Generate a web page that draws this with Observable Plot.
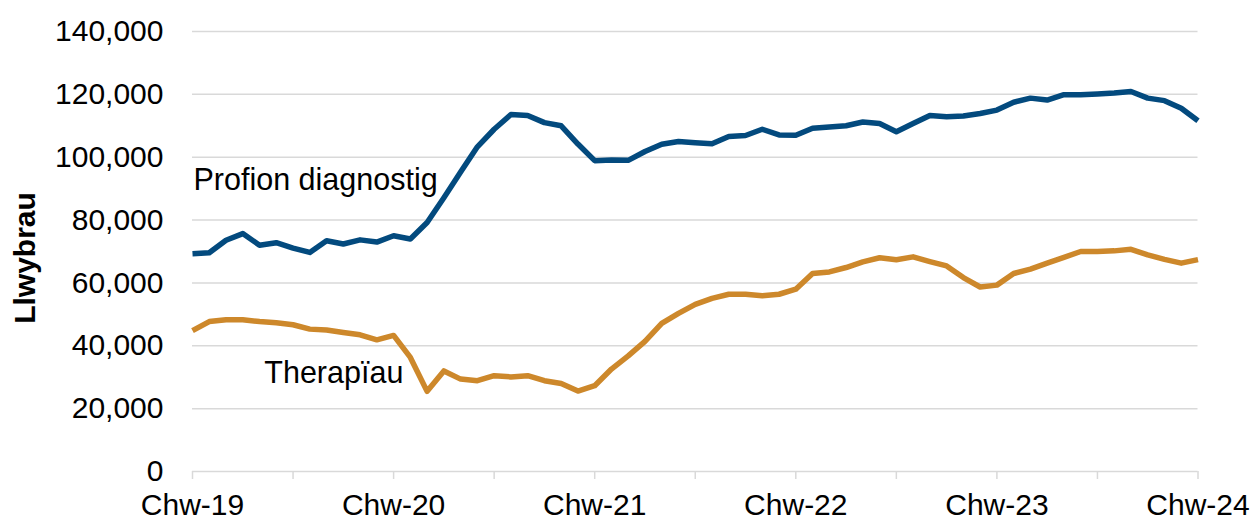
<!DOCTYPE html>
<html>
<head>
<meta charset="utf-8">
<script src="https://cdn.jsdelivr.net/npm/d3@7"></script>
<script src="https://cdn.jsdelivr.net/npm/@observablehq/plot@0.6"></script>
<style>
  html, body { margin: 0; padding: 0; background: #ffffff; }
  #chart { width: 1260px; height: 523px; }
</style>
</head>
<body>
<div id="chart"></div>
<script>
// Monthly values, Chwefror 2019 (index 0) to Chwefror 2024 (index 60)
const seriesNames = ["Profion diagnostig", "Therapïau"];

const profionDiagnostig = [
  69300, 69600, 73600, 75700, 72000, 72800, 71100, 69700, 73400, 72400,
  73700, 73000, 75000, 74000, 79200, 87100, 95300, 103300, 108900, 113600,
  113300, 111000, 110000, 104200, 98900, 99100, 99000, 101800, 104100, 105000,
  104600, 104300, 106600, 106900, 108900, 107100, 107000, 109200, 109600, 110000,
  111200, 110700, 108100, 110700, 113300, 112900, 113100, 113900, 115000, 117500,
  118800, 118200, 119900, 119900, 120100, 120400, 120900, 118800, 118000, 115600,
  111600
];

const therapiau = [
  44800, 47700, 48300, 48300, 47700, 47300, 46700, 45300, 45000, 44200,
  43500, 41900, 43300, 36300, 25500, 32000, 29400, 28900, 30500, 30100,
  30500, 28900, 28000, 25600, 27300, 32600, 36800, 41400, 47100, 50300,
  53200, 55100, 56400, 56400, 55900, 56400, 58000, 63000, 63500, 64900,
  66700, 68000, 67400, 68300, 66800, 65400, 61700, 58700, 59300, 63000,
  64400, 66300, 68100, 70000, 70000, 70200, 70700, 68900, 67500, 66300,
  67400
];

const xTickLabels = ["Chw-19", "Chw-20", "Chw-21", "Chw-22", "Chw-23", "Chw-24"];
const xMajorTicks = [0, 12, 24, 36, 48, 60];
const xMinorTicks = [0, 6, 12, 18, 24, 30, 36, 42, 48, 54, 60];
const yTicks = [0, 20000, 40000, 60000, 80000, 100000, 120000, 140000];
const yTitle = "Llwybrau";

const colors = ["#034a7e", "#cd882b"];

const rows = [
  ...profionDiagnostig.map((v, i) => ({ i, v, s: seriesNames[0] })),
  ...therapiau.map((v, i) => ({ i, v, s: seriesNames[1] }))
];

const fmt = d3.format(",");

const chart = Plot.plot({
  width: 1260,
  height: 523,
  marginLeft: 192,
  marginRight: 62.5,
  marginTop: 31,
  marginBottom: 52,
  style: {
    fontFamily: "'Liberation Sans', Arial, sans-serif",
    fontSize: "30px",
    color: "#000",
    background: "#fff",
    overflow: "visible"
  },
  x: { domain: [0, 60] },
  y: { domain: [0, 140000] },
  color: { domain: seriesNames, range: colors },
  marks: [
    Plot.gridY(yTicks.slice(1), { stroke: "#d9d9d9", strokeOpacity: 1, strokeWidth: 1.5 }),
    Plot.ruleY([0], { stroke: "#d9d9d9", strokeWidth: 1.5 }),
    Plot.axisX(xMinorTicks, {
      tickSize: 8, stroke: "#d9d9d9", strokeWidth: 1.5, strokeOpacity: 1,
      tickFormat: () => "", label: null
    }),
    Plot.axisX(xMajorTicks, {
      tickSize: 0, tickPadding: 22, fontSize: 30, fill: "#000",
      tickFormat: (d) => xTickLabels[xMajorTicks.indexOf(d)], label: null
    }),
    Plot.axisY(yTicks, {
      tickSize: 0, tickPadding: 29, fontSize: 30, fill: "#000",
      tickFormat: fmt, label: null
    }),
    Plot.line(rows, {
      x: "i", y: "v", z: "s", stroke: "s", strokeWidth: 5.5,
      strokeLinejoin: "round", strokeLinecap: "butt"
    }),
    // series labels anchored to data points
    Plot.text([{ i: 0, v: profionDiagnostig[0], s: seriesNames[0] }], {
      x: "i", y: "v", text: "s", textAnchor: "start", dx: 1, dy: -73,
      fontSize: 30.5, fill: "#000"
    }),
    Plot.text([{ i: 13, v: therapiau[13], s: seriesNames[1] }], {
      x: "i", y: "v", text: "s", textAnchor: "end", dx: -7, dy: 16,
      fontSize: 30.5, fill: "#000"
    }),
    Plot.text([yTitle], {
      frameAnchor: "left", textAnchor: "middle", rotate: -90, dx: -167, dy: 6.5,
      fontSize: 30, fontWeight: "bold", fill: "#000"
    })
  ]
});

document.getElementById("chart").appendChild(chart);
</script>
</body>
</html>
